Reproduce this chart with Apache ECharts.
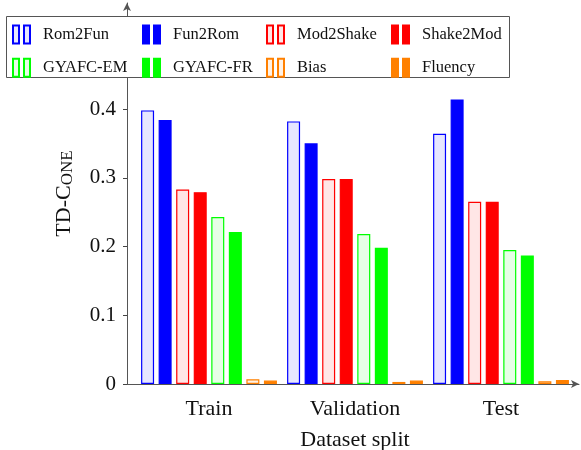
<!DOCTYPE HTML>
<html>
<head>
    <title>TD-CoNE by dataset split</title>
    <script src="https://cdn.jsdelivr.net/npm/echarts@6.0.0/dist/echarts.min.js"></script>
    <style>
        body { margin: 0; background: #fff; }
        #main { width: 581px; height: 450px; }
    </style>
</head>
<body>
<div id="main"></div>
<script type="text/javascript">

    var splits = ['Train', 'Validation', 'Test'];

    var rom2fun   = [0.398, 0.382, 0.364];
    var fun2rom   = [0.384, 0.350, 0.414];
    var mod2shake = [0.283, 0.298, 0.265];
    var shake2mod = [0.279, 0.298, 0.265];
    var gyafcEm   = [0.243, 0.218, 0.195];
    var gyafcFr   = [0.221, 0.198, 0.187];
    var bias      = [0.007, 0.003, 0.004];
    var fluency   = [0.005, 0.005, 0.006];

    var yTicks = [0, 0.1, 0.2, 0.3, 0.4];

    var font = '"Liberation Serif", "Times New Roman", serif';
    var axisColor = '#555';
    var icon = 'path://M0,0h6v18h-6z M11,0h6v18h-6z';

    // name, values, fill, border
    var seriesDefs = [
        ['Rom2Fun',   rom2fun,   '#e6e6ff', '#0000ff'],
        ['Fun2Rom',   fun2rom,   '#0000ff', '#0000ff'],
        ['Mod2Shake', mod2shake, '#ffe6e6', '#ff0000'],
        ['Shake2Mod', shake2mod, '#ff0000', '#ff0000'],
        ['GYAFC-EM',  gyafcEm,   '#e6ffe6', '#00ff00'],
        ['GYAFC-FR',  gyafcFr,   '#00ff00', '#00ff00'],
        ['Bias',      bias,      '#fff2e6', '#ff8000'],
        ['Fluency',   fluency,   '#ff8000', '#ff8000']
    ];

    var series = seriesDefs.map(function (d) {
        return {
            name: d[0],
            type: 'bar',
            xAxisIndex: 1,
            yAxisIndex: 1,
            data: d[1],
            barWidth: 13,
            barGap: '35%',
            itemStyle: { color: d[2], borderColor: d[3], borderWidth: 1.2 }
        };
    });

    function legendColumn(names, left) {
        return {
            data: names,
            orient: 'vertical',
            left: left,
            top: 22,
            padding: 0,
            itemGap: 8,
            itemWidth: 17,
            itemHeight: 18,
            icon: icon,
            z: 6,
            textStyle: { fontFamily: font, fontSize: 16.5, color: '#111', padding: [0, 0, 0, 8] }
        };
    }

    var chart = echarts.init(document.getElementById('main'));

    var option = {
        animation: false,
        backgroundColor: '#fff',
        graphic: {
            elements: [{
                type: 'rect',
                z: 5,
                shape: { x: 6.5, y: 16.5, width: 503, height: 61 },
                style: { fill: '#fff', stroke: axisColor, lineWidth: 1 }
            }]
        },
        legend: [
            legendColumn(['Rom2Fun', 'GYAFC-EM'], 12),
            legendColumn(['Fun2Rom', 'GYAFC-FR'], 142),
            legendColumn(['Mod2Shake', 'Bias'], 266),
            legendColumn(['Shake2Mod', 'Fluency'], 391)
        ],
        grid: [
            { left: 127, right: 2, top: 3, bottom: 66, outerBoundsMode: 'none' },
            { left: 136, width: 438, top: 54, bottom: 66, outerBoundsMode: 'none' }
        ],
        xAxis: [
            {
                type: 'value', gridIndex: 0, min: 0, max: 1,
                axisLine: { lineStyle: { color: axisColor, width: 1 }, symbol: ['none', 'arrow'], symbolSize: [6, 8] },
                axisTick: { show: false }, axisLabel: { show: false }, splitLine: { show: false }
            },
            {
                type: 'category', gridIndex: 1, data: splits, position: 'bottom',
                axisLine: { show: false },
                axisTick: { alignWithLabel: true, length: 4, lineStyle: { color: '#444', width: 1 } },
                axisLabel: { fontFamily: font, fontSize: 22, color: '#111', margin: 8 },
                name: 'Dataset split',
                nameLocation: 'middle',
                nameMoveOverlap: false,
                nameGap: 56,
                nameTextStyle: { fontFamily: font, fontSize: 22, color: '#111', verticalAlign: 'middle' }
            },
            {
                // inner half of the category ticks
                type: 'category', gridIndex: 1, data: splits, position: 'bottom', offset: 0,
                axisLine: { show: false },
                axisTick: { alignWithLabel: true, inside: true, length: 4, lineStyle: { color: '#444', width: 1 } },
                axisLabel: { show: false }
            }
        ],
        yAxis: [
            {
                type: 'value', gridIndex: 0, min: 0, max: 1,
                axisLine: { show: true, lineStyle: { color: axisColor, width: 1 }, symbol: ['none', 'arrow'], symbolSize: [6, 8] },
                axisTick: { show: false }, axisLabel: { show: false }, splitLine: { show: false },
                name: 'TD-C{sc|ONE}',
                nameLocation: 'middle',
                nameGap: 46,
                nameTextStyle: {
                    fontFamily: font, fontSize: 22, color: '#111',
                    rich: { sc: { fontFamily: font, fontSize: 17, color: '#111', verticalAlign: 'bottom' } }
                }
            },
            {
                type: 'value', gridIndex: 1, min: 0, max: 0.48, interval: 0.1,
                offset: 9,
                axisLine: { show: false },
                axisTick: { show: true, length: 4, lineStyle: { color: '#444', width: 1 } },
                splitLine: { show: false },
                axisLabel: {
                    fontFamily: font, fontSize: 21, color: '#111', margin: 11,
                    formatter: function (v) {
                        var t = yTicks.find(function (x) { return Math.abs(x - v) < 1e-6; });
                        return t === undefined ? '' : String(t);
                    }
                }
            }
        ],
        series: series
    };

    chart.setOption(option);

</script>
</body>
</html>
